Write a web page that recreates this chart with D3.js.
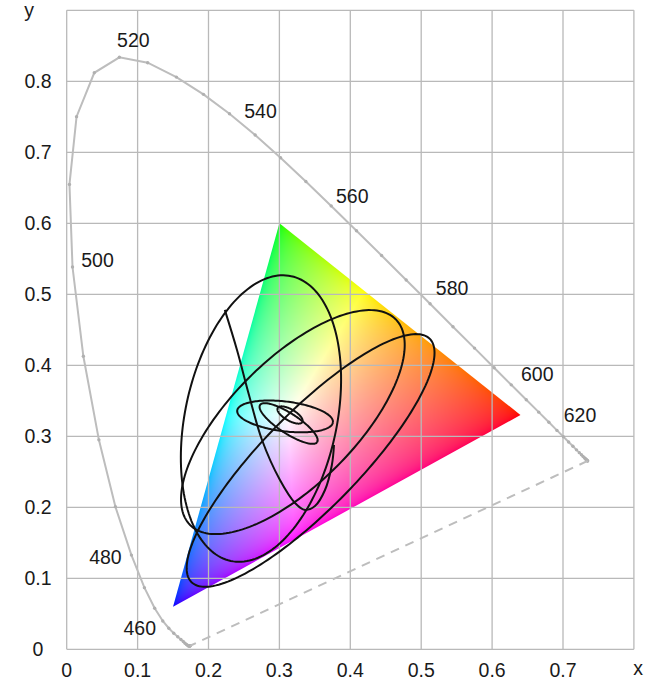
<!DOCTYPE html>
<html>
<head>
<meta charset="utf-8">
<script src="https://d3js.org/d3.v7.min.js"></script>
<style>
  body { margin: 0; background: #fff; }
  svg text { font-family: "Liberation Sans", Arial, sans-serif; font-size: 19.5px; fill: #1a1a1a; }
  .grid line { stroke: #b9b9b9; stroke-width: 1.3; }
  .locus { fill: none; stroke: #bdbdbd; stroke-width: 2; }
  .locus-dot { fill: #b0b0b0; }
  .purple { stroke: #bdbdbd; stroke-width: 2; stroke-dasharray: 9 7; }
  .ellipse { fill: none; stroke: #111; stroke-width: 2; }
</style>
</head>
<body>
<script>
// axis ticks
var xTicks = [0, 0.1, 0.2, 0.3, 0.4, 0.5, 0.6, 0.7];
var yTicks = [0, 0.1, 0.2, 0.3, 0.4, 0.5, 0.6, 0.7, 0.8];

// CIE 1931 spectral locus, 5 nm steps 380..700
var wavelengths = d3.range(380, 701, 5);
var locusX = [0.1741,0.1740,0.1738,0.1736,0.1733,0.1730,0.1726,0.1721,0.1714,0.1703,0.1689,0.1669,0.1644,0.1611,0.1566,0.1510,
  0.1440,0.1355,0.1241,0.1096,0.0913,0.0687,0.0454,0.0235,0.0082,0.0039,0.0139,0.0389,0.0743,0.1142,0.1547,0.1929,
  0.2296,0.2658,0.3016,0.3373,0.3731,0.4087,0.4441,0.4788,0.5125,0.5448,0.5752,0.6029,0.6270,0.6482,0.6658,0.6801,
  0.6915,0.7006,0.7079,0.7140,0.7190,0.7230,0.7260,0.7283,0.7300,0.7311,0.7320,0.7327,0.7334,0.7340,0.7344,0.7346,0.7347];
var locusY = [0.0050,0.0050,0.0049,0.0049,0.0048,0.0048,0.0048,0.0048,0.0051,0.0058,0.0069,0.0086,0.0109,0.0138,0.0177,0.0227,
  0.0297,0.0399,0.0578,0.0868,0.1327,0.2007,0.2950,0.4127,0.5384,0.6548,0.7502,0.8120,0.8338,0.8262,0.8059,0.7816,
  0.7543,0.7243,0.6923,0.6589,0.6245,0.5896,0.5547,0.5202,0.4866,0.4544,0.4242,0.3965,0.3725,0.3514,0.3340,0.3197,
  0.3083,0.2993,0.2920,0.2859,0.2809,0.2770,0.2740,0.2717,0.2700,0.2689,0.2680,0.2673,0.2666,0.2660,0.2656,0.2654,0.2653];
var labelWl = [460, 480, 500, 520, 540, 560, 580, 600, 620];

// sRGB primaries
var primX = [0.64, 0.30, 0.15];
var primY = [0.33, 0.60, 0.06];

// ellipses: centre, semi axes, angle (deg)
var ellCx    = [0.274, 0.319, 0.344, 0.308, 0.313, 0.315];
var ellCy    = [0.325, 0.320, 0.266, 0.328, 0.318, 0.330];
var ellA     = [0.205, 0.205, 0.240, 0.068, 0.048, 0.020];
var ellB     = [0.107, 0.088, 0.068, 0.021, 0.014, 0.008];
var ellAngle = [78, 45, 45.6, -7, -33, -30];

// inner lobe of the tall ellipse (open curve)
var lobeX = [0.2230, 0.2402, 0.2571, 0.2755, 0.3008, 0.3220, 0.3361, 0.3502, 0.3643, 0.3740, 0.3770];
var lobeY = [0.4780, 0.4215, 0.3582, 0.2948, 0.2384, 0.2061, 0.1962, 0.2018, 0.2244, 0.2596, 0.2877];

var W = 646, H = 680;
var x = d3.scaleLinear().domain([0, 0.8]).range([66.7, 633.9]);
var y = d3.scaleLinear().domain([0, 0.9]).range([649.3, 10.3]);

var svg = d3.select("body").append("svg").attr("width", W).attr("height", H);

// colour fill of the gamut triangle, computed per pixel
var tri = primX.map(function(d, i) { return [x(d), y(primY[i])]; });
var x0 = Math.floor(d3.min(tri, d => d[0])), x1 = Math.ceil(d3.max(tri, d => d[0]));
var y0 = Math.floor(d3.min(tri, d => d[1])), y1 = Math.ceil(d3.max(tri, d => d[1]));
var cw = x1 - x0, ch = y1 - y0;
var canvas = document.createElement("canvas");
canvas.width = cw; canvas.height = ch;
var ctx = canvas.getContext("2d");
var img = ctx.createImageData(cw, ch);
function gam(c) { return c <= 0.0031308 ? 12.92 * c : 1.055 * Math.pow(c, 1 / 2.4) - 0.055; }
for (var j = 0; j < ch; j++) {
  for (var i = 0; i < cw; i++) {
    var cx = x.invert(x0 + i + 0.5), cy = y.invert(y0 + j + 0.5);
    var X = cx / cy, Y = 1, Z = (1 - cx - cy) / cy;
    var r = 3.2406 * X - 1.5372 * Y - 0.4986 * Z;
    var g = -0.9689 * X + 1.8758 * Y + 0.0415 * Z;
    var b = 0.0557 * X - 0.2040 * Y + 1.0570 * Z;
    r = Math.max(r, 0); g = Math.max(g, 0); b = Math.max(b, 0);
    var m = Math.max(r, g, b) || 1;
    var k = (j * cw + i) * 4;
    img.data[k] = 255 * gam(r / m);
    img.data[k + 1] = 255 * gam(g / m);
    img.data[k + 2] = 255 * gam(b / m);
    img.data[k + 3] = 255;
  }
}
ctx.putImageData(img, 0, 0);

svg.append("clipPath").attr("id", "triclip")
  .append("polygon").attr("points", tri.map(d => d.join(",")).join(" "));
svg.append("image")
  .attr("x", x0).attr("y", y0).attr("width", cw).attr("height", ch)
  .attr("href", canvas.toDataURL())
  .attr("clip-path", "url(#triclip)");

// grid
var grid = svg.append("g").attr("class", "grid");
grid.selectAll("line.v").data(d3.range(0, 0.81, 0.1)).enter().append("line")
  .attr("x1", d => x(d)).attr("x2", d => x(d)).attr("y1", y(0)).attr("y2", y(0.9));
grid.selectAll("line.h").data(d3.range(0, 0.91, 0.1)).enter().append("line")
  .attr("y1", d => y(d)).attr("y2", d => y(d)).attr("x1", x(0)).attr("x2", x(0.8));

// tick labels
var fmt = d => d === 0 ? "0" : d3.format(".1f")(d);
svg.selectAll("text.xt").data(xTicks).enter().append("text")
  .attr("x", d => x(d)).attr("y", 677).attr("text-anchor", "middle").text(fmt);
svg.selectAll("text.yt").data(yTicks).enter().append("text")
  .attr("x", 38).attr("y", d => y(d) + 7).attr("text-anchor", "middle").text(fmt);
svg.append("text").attr("x", 29).attr("y", 17).attr("text-anchor", "middle").text("y");
svg.append("text").attr("x", 638).attr("y", 675).attr("text-anchor", "middle").text("x");

// spectral locus
var pts = locusX.map((d, i) => [x(d), y(locusY[i])]);
svg.append("path").attr("class", "locus").attr("d", d3.line()(pts));
svg.selectAll("circle.locus-dot").data(pts).enter().append("circle")
  .attr("class", "locus-dot").attr("cx", d => d[0]).attr("cy", d => d[1]).attr("r", 1.7);
svg.append("line").attr("class", "purple")
  .attr("x1", pts[pts.length - 1][0]).attr("y1", pts[pts.length - 1][1])
  .attr("x2", pts[0][0]).attr("y2", pts[0][1]);

// wavelength labels
var labOff = {460: [-29, 7], 480: [-26, 9], 500: [25, 0], 520: [14, -10], 540: [31, 4],
              560: [21, -3], 580: [22, -9], 600: [26, -4], 620: [23, -8]};
svg.selectAll("text.wl").data(labelWl).enter().append("text")
  .attr("text-anchor", "middle")
  .attr("x", d => x(locusX[wavelengths.indexOf(d)]) + labOff[d][0])
  .attr("y", d => y(locusY[wavelengths.indexOf(d)]) + labOff[d][1])
  .text(d => d);

// ellipses
var line = d3.line();
ellCx.forEach(function(c, n) {
  var th = ellAngle[n] * Math.PI / 180;
  var p = d3.range(0, 361, 2).map(function(t) {
    t = t * Math.PI / 180;
    var ex = c + ellA[n] * Math.cos(t) * Math.cos(th) - ellB[n] * Math.sin(t) * Math.sin(th);
    var ey = ellCy[n] + ellA[n] * Math.cos(t) * Math.sin(th) + ellB[n] * Math.sin(t) * Math.cos(th);
    return [x(ex), y(ey)];
  });
  svg.append("path").attr("class", "ellipse").attr("d", line(p));
});

svg.append("path").attr("class", "ellipse")
  .attr("d", d3.line().curve(d3.curveCatmullRom)(lobeX.map((d, i) => [x(d), y(lobeY[i])])));
</script>
</body>
</html>
